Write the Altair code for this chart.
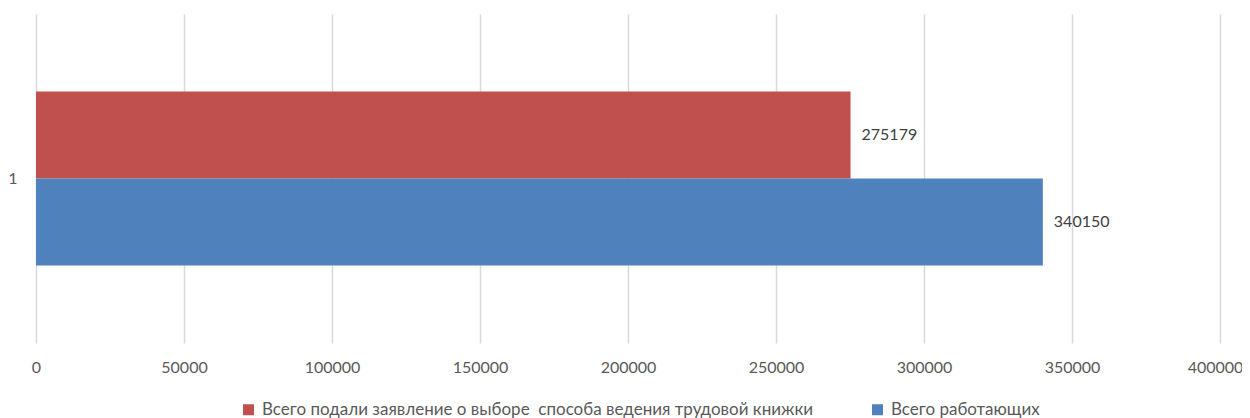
import altair as alt
import pandas as pd

series = ["Всего подали заявление о выборе\u00a0 способа ведения трудовой книжки", "Всего работающих"]
values = [275179, 340150]
category = ["1", "1"]
colors = ["#C0504D", "#4F81BD"]
x_ticks = [0, 50000, 100000, 150000, 200000, 250000, 300000, 350000, 400000]

df = pd.DataFrame({"cat": category, "series": series, "value": values})

FONT = "Lato"

base = alt.Chart(df).encode(
    y=alt.Y("cat:N", title=None,
            scale=alt.Scale(paddingInner=0, paddingOuter=0.4455),
            axis=alt.Axis(ticks=False, domain=False, labelPadding=19,
                          labelFontSize=16, labelColor="#595959", labelFont=FONT)),
    yOffset=alt.YOffset("series:N", sort=series, scale=alt.Scale(paddingInner=0, paddingOuter=0)),
    x=alt.X("value:Q", title=None,
            scale=alt.Scale(domain=[0, 400000], nice=False),
            axis=alt.Axis(values=x_ticks, ticks=False, domain=False, labelPadding=16,
                          labelFontSize=16, labelColor="#595959", labelFont=FONT,
                          grid=True, gridColor="#d9d9d9", gridWidth=1.5, format="d",
                          labelFlush=False,
                          labelOffset=alt.condition("datum.value == 400000", alt.value(-5), alt.value(0)))),
)

bars = base.mark_bar().encode(
    color=alt.Color("series:N", sort=series,
                    scale=alt.Scale(domain=series, range=colors),
                    legend=alt.Legend(title=None, orient="none", direction="horizontal",
                                      legendX=204, legendY=387, symbolType="square",
                                      symbolSize=121, symbolStrokeWidth=0,
                                      labelFontSize=17, labelColor="#595959", labelFont=FONT,
                                      labelOffset=5, columnPadding=56, padding=0,
                                      labelLimit=1000))
)

labels = base.mark_text(align="left", baseline="middle", dx=11, fontSize=16,
                        font=FONT, color="#404040").encode(
    text=alt.Text("value:Q", format="d")
)

chart = alt.layer(bars, labels).properties(
    width=1184, height=329,
    autosize=alt.AutoSizeParams(type="none"),
    padding={"left": 28, "top": 6, "right": 22, "bottom": 75},
).configure_view(stroke=None)

chart.save("out.html", embed_options={"renderer": "svg", "actions": False})
